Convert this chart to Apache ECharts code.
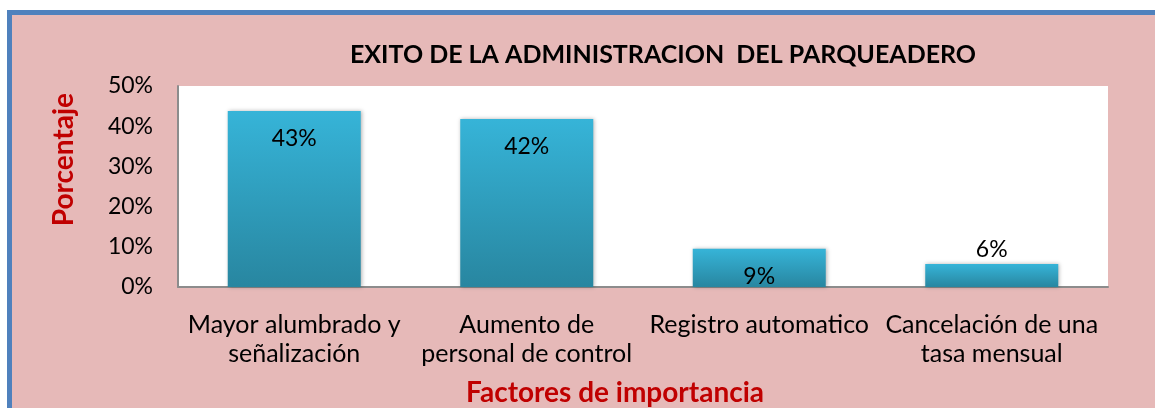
<!DOCTYPE html>
<html lang="es">
<head>
	<meta charset="UTF-8">
	<title>Exito de la administracion</title>
	<style type="text/css">
	body,html{
		width: 100%;
		height: 100%;
		margin: 0;
		padding: 0;
		background: #ffffff;
	}
	#chart{
		width: 1155px;
		height: 408px;
	}
	</style>
</head>
<body>
	<div id="chart"></div>
<script type="text/javascript" src="https://cdn.jsdelivr.net/npm/echarts@6/dist/echarts.min.js"></script>
<script type="text/javascript">
	// datos
	var categorias = ['Mayor alumbrado y\nseñalización', 'Aumento de\npersonal de control', 'Registro automatico', 'Cancelación de una\ntasa mensual'];
	var valores = [43.8, 41.8, 9.5, 5.7];
	var etiquetas = ['43%', '42%', '9%', '6%'];
	var dentro = [true, true, true, false];

	var fuente = 'Lato, "Open Sans", sans-serif';
	var rojo = '#c00000';

	var chart = echarts.init(document.getElementById('chart'));

	var datos = [];
	for (var i = 0; i < valores.length; i++) {
		datos.push({
			value: valores[i],
			label: {
				show: true,
				position: dentro[i] ? 'insideTop' : 'top',
				distance: dentro[i] ? 16 : 3,
				formatter: etiquetas[i],
				color: '#000',
				fontFamily: fuente,
				fontSize: 23
			}
		});
	}

	var option = {
		backgroundColor: '#ffffff',
		animation: false,
		graphic: [{
			type: 'rect',
			z: -10,
			shape: { x: 9.5, y: 12.5, width: 1160, height: 420 },
			style: { fill: '#e6b9b8', stroke: '#4f81bd', lineWidth: 5 }
		}, {
			type: 'rect',
			z: -5,
			shape: { x: 178, y: 86, width: 930, height: 201 },
			style: { fill: '#ffffff' }
		}, {
			type: 'text',
			left: 50,
			top: 93,
			style: {
				text: 'Porcentaje',
				fill: rojo,
				font: 'bold 28px ' + fuente
			},
			rotation: Math.PI / 2
		}],
		title: {
			text: 'EXITO DE LA ADMINISTRACION  DEL PARQUEADERO',
			left: 658,
			top: 37,
			textAlign: 'center',
			textStyle: {
				fontFamily: fuente,
				fontWeight: 'bold',
				fontSize: 25,
				color: '#000'
			}
		},
		grid: {
			left: 178,
			right: 47,
			top: 86,
			bottom: 121,
			containLabel: false
		},
		xAxis: {
			type: 'category',
			data: categorias,
			name: 'Factores de importancia',
			nameLocation: 'middle',
			nameGap: 92,
			nameTextStyle: {
				color: rojo,
				fontFamily: fuente,
				fontWeight: 'bold',
				fontSize: 28,
				padding: [0, 56, 0, 0]
			},
			axisLine: { lineStyle: { color: '#8c8c8c', width: 2 } },
			axisTick: { show: false },
			axisLabel: {
				interval: 0,
				margin: 23,
				color: '#000',
				fontFamily: fuente,
				fontSize: 25,
				lineHeight: 29
			}
		},
		yAxis: {
			type: 'value',
			min: 0,
			max: 50,
			interval: 10,
			axisLine: { show: true, lineStyle: { color: '#8c8c8c', width: 2 } },
			axisTick: { show: false },
			splitLine: { show: false },
			axisLabel: {
				margin: 25,
				formatter: '{value}%',
				color: '#000',
				fontFamily: fuente,
				fontSize: 23
			}
		},
		series: [{
			type: 'bar',
			data: datos,
			barWidth: 133,
			itemStyle: {
				color: new echarts.graphic.LinearGradient(0, 0, 0, 1, [
					{ offset: 0, color: '#36b4d8' },
					{ offset: 1, color: '#2886a0' }
				]),
				shadowColor: 'rgba(0,0,0,0.3)',
				shadowBlur: 4,
				shadowOffsetX: 1
			}
		}]
	};

	chart.setOption(option);
	window.addEventListener('resize', function () {
		chart.resize();
	});
</script>
</body>
</html>
